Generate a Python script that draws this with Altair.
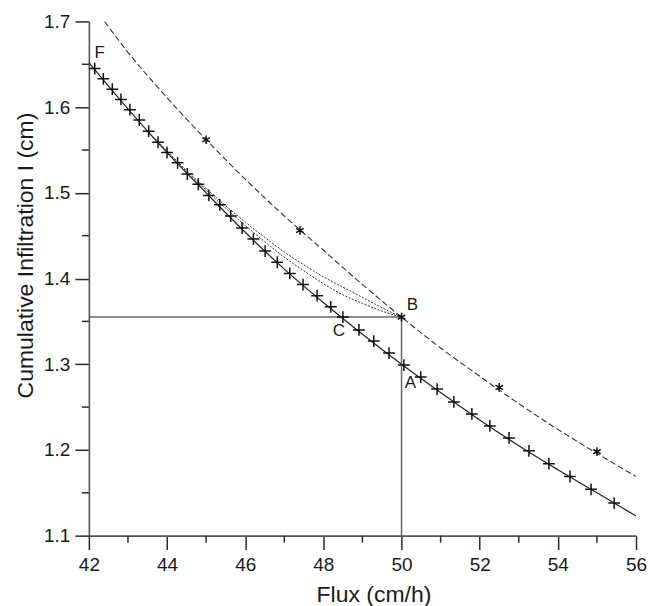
import altair as alt
import pandas as pd

# ---- data ----
# solid model curve
solid_x = [42, 43, 44, 45, 46, 47, 48, 49, 50, 51, 52, 53, 54, 55, 56]
solid_y = [1.652, 1.598, 1.547, 1.500, 1.454, 1.411, 1.372, 1.335, 1.300, 1.267, 1.235, 1.205, 1.177, 1.150, 1.123]

# "+" markers
plus_x = [42.15, 42.37, 42.60, 42.82, 43.05, 43.29, 43.53, 43.77, 44.00, 44.27, 44.52, 44.80,
          45.07, 45.35, 45.63, 45.92, 46.21, 46.51, 46.82, 47.14, 47.48, 47.84, 48.19, 48.50,
          48.91, 49.29, 49.68, 50.06, 50.49, 50.91, 51.34, 51.80, 52.26, 52.75, 53.26, 53.77,
          54.31, 54.85, 55.44]
plus_y = [1.645, 1.633, 1.621, 1.609, 1.597, 1.585, 1.572, 1.559, 1.547, 1.535, 1.522, 1.510,
          1.497, 1.486, 1.473, 1.459, 1.446, 1.432, 1.419, 1.406, 1.393, 1.380, 1.367, 1.355,
          1.340, 1.327, 1.313, 1.299, 1.285, 1.271, 1.256, 1.242, 1.228, 1.214, 1.199, 1.184,
          1.169, 1.154, 1.138]

# dashed curve
dash_x = [42.4, 43, 44, 45, 46, 47, 48, 49, 50, 51, 52, 53, 54, 55, 56]
dash_y = [1.700, 1.664, 1.611, 1.562, 1.516, 1.473, 1.433, 1.393, 1.355, 1.319, 1.286, 1.254, 1.224, 1.196, 1.169]

# "*" markers
star_x = [45.0, 47.4, 50.0, 52.5, 55.0]
star_y = [1.562, 1.456, 1.355, 1.273, 1.198]

# two dotted curves ending at B
dot_x = [43.5, 44, 44.5, 45, 45.5, 46, 46.5, 47, 47.5, 48, 48.5, 49, 49.5, 50]
dot1_y = [1.572, 1.549, 1.526, 1.505, 1.485, 1.466, 1.448, 1.431, 1.416, 1.402, 1.390, 1.378, 1.366, 1.355]
dot2_y = [1.572, 1.548, 1.525, 1.503, 1.482, 1.462, 1.443, 1.425, 1.409, 1.394, 1.381, 1.371, 1.362, 1.355]

# reference lines through B
ref_x = [42, 50]
ref_x2 = [50, 50]
ref_y = [1.355, 1.1]
ref_y2 = [1.355, 1.355]

# point labels
lab_text = ["F", "C", "B", "A"]
lab_x = [42.15, 48.5, 50.0, 50.0]
lab_y = [1.645, 1.355, 1.355, 1.300]

# ticks
x_major = [42, 44, 46, 48, 50, 52, 54, 56]
x_minor = [43, 45, 47, 49, 51, 53, 55]
y_major = [1.1, 1.2, 1.3, 1.4, 1.5, 1.6, 1.7]
y_minor = [1.15, 1.25, 1.35, 1.45, 1.55, 1.65]

FONT = "Liberation Sans"
AX = "#555555"
TK = "#2a2a2a"
INK = "#1a1a1a"

xs = alt.Scale(domain=[42, 56], nice=False, zero=False)
ys = alt.Scale(domain=[1.1, 1.7], nice=False, zero=False)

x_axis = alt.Axis(values=x_major, format="d", title="Flux (cm/h)", grid=False,
                  domainColor=AX, domainWidth=1.6, ticks=True, tickColor=TK, tickWidth=1.5,
                  tickSize=14, labelFlush=False,
                  labelFont=FONT, labelFontSize=19, labelColor=INK, labelPadding=6,
                  titleFont=FONT, titleFontSize=23, titleFontWeight="normal", titleColor=INK,
                  titleX=285, titleY=66, titleAlign="center", titleBaseline="alphabetic")
y_axis = alt.Axis(values=y_major, format=".1f", title="Cumulative Infiltration I (cm)", grid=False,
                  domainColor=AX, domainWidth=1.6, ticks=True, tickColor=TK, tickWidth=1.5,
                  tickSize=14, labelFlush=False,
                  labelFont=FONT, labelFontSize=19, labelColor=INK, labelPadding=5,
                  titleFont=FONT, titleFontSize=23, titleFontWeight="normal", titleColor=INK,
                  titleX=-56, titleY=234, titleAngle=-90, titleAlign="center",
                  titleBaseline="alphabetic")

solid_df = pd.DataFrame({"x": solid_x, "y": solid_y})
plus_df = pd.DataFrame({"x": plus_x, "y": plus_y})
dash_df = pd.DataFrame({"x": dash_x, "y": dash_y})
star_df = pd.DataFrame({"x": star_x, "y": star_y})
dot1_df = pd.DataFrame({"x": dot_x, "y": dot1_y})
dot2_df = pd.DataFrame({"x": dot_x, "y": dot2_y})
ref_df = pd.DataFrame({"x": ref_x, "x2": ref_x2, "y": ref_y, "y2": ref_y2})
lab_df = pd.DataFrame({"t": lab_text, "x": lab_x, "y": lab_y})
xmin_df = pd.DataFrame({"x": x_minor})
ymin_df = pd.DataFrame({"y": y_minor})

X = alt.X("x:Q", scale=xs, axis=x_axis)
Y = alt.Y("y:Q", scale=ys, axis=y_axis)

solid = alt.Chart(solid_df).mark_line(color="#222222", strokeWidth=1.2, interpolate="monotone").encode(
    x=X, y=Y)

dashed = alt.Chart(dash_df).mark_line(color="#333333", strokeWidth=1.1, strokeDash=[6, 3],
                                      interpolate="monotone", clip=True).encode(x=X, y=Y)

dot1 = alt.Chart(dot1_df).mark_line(color="#333333", strokeWidth=1, strokeDash=[2, 1.5],
                                    interpolate="monotone").encode(x=X, y=Y)
dot2 = alt.Chart(dot2_df).mark_line(color="#333333", strokeWidth=1, strokeDash=[2, 1.5],
                                    interpolate="monotone").encode(x=X, y=Y)

refs = alt.Chart(ref_df).mark_rule(color="#666666", strokeWidth=1.5).encode(
    x=X, x2="x2:Q", y=Y, y2="y2:Q")

plus = alt.Chart(plus_df).mark_point(shape="M-1,0L1,0M0,-1L0,1", size=140, filled=False,
                                     color="#111111", strokeWidth=1.5, opacity=1).encode(x=X, y=Y)

star = alt.Chart(star_df).mark_point(
    shape="M0,-1L0,1M-0.87,-0.5L0.87,0.5M-0.87,0.5L0.87,-0.5", size=75, filled=False,
    color="#111111", strokeWidth=1.5, opacity=1).encode(x=X, y=Y)

offsets = {"F": (5, -16), "C": (-4, 14), "B": (11, -12), "A": (9, 19)}
labels = []
for t, (ddx, ddy) in offsets.items():
    labels.append(
        alt.Chart(lab_df).transform_filter(alt.datum.t == t).mark_text(
            font=FONT, fontSize=17, color=INK, dx=ddx, dy=ddy, align="center", baseline="middle"
        ).encode(x=X, y=Y, text="t:N"))

xminor = alt.Chart(xmin_df).mark_rule(color=TK, strokeWidth=1.5, clip=False).encode(
    x=X, y=alt.value(515), y2=alt.value(522))
yminor = alt.Chart(ymin_df).mark_rule(color=TK, strokeWidth=1.5, clip=False).encode(
    y=Y, x=alt.value(0), x2=alt.value(-7))

chart = alt.layer(solid, refs, dashed, dot1, dot2, plus, star, xminor, yminor, *labels).properties(
    width=548, height=515,
    autosize=alt.AutoSizeParams(type="none"),
    padding={"left": 81, "top": 13, "right": 20, "bottom": 70},
    background="white",
).configure_view(stroke=None)

chart.save("out.html", embed_options={"renderer": "svg", "actions": False})
